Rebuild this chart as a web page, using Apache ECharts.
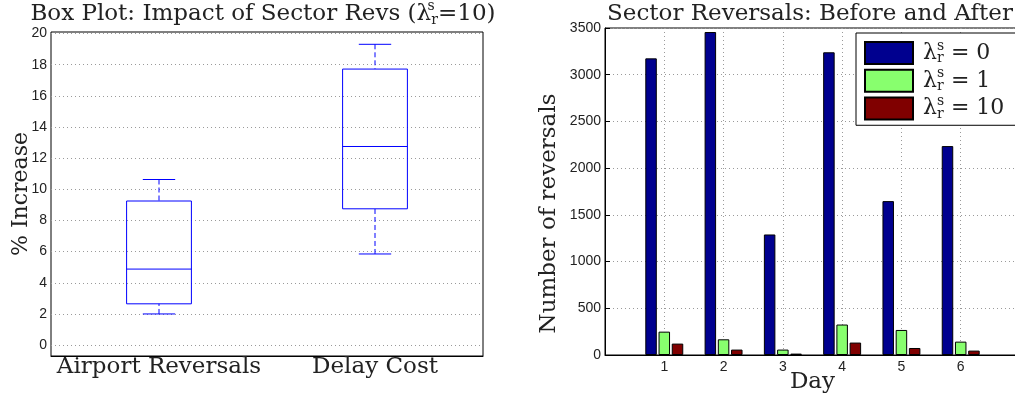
<!DOCTYPE html>
<html>
<head>
<meta charset="utf-8">
<script src="https://cdn.jsdelivr.net/npm/echarts@6/dist/echarts.min.js"></script>
<style>
html, body { margin: 0; padding: 0; background: #fff; }
#chart { width: 1015px; height: 395px; }
</style>
</head>
<body>
<div id="chart"></div>
<script>
// Box plot: % increase caused by sector reversal penalty (lambda = 10)
const boxCategories = ['Airport Reversals', 'Delay Cost'];
const boxMin = [2.0, 5.85];
const boxQ1 = [2.65, 8.75];
const boxMedian = [4.88, 12.75];
const boxQ3 = [9.25, 17.72];
const boxMax = [10.63, 19.31];
const percentTicks = [0, 2, 4, 6, 8, 10, 12, 14, 16, 18, 20];

// Sector reversals per day for three penalty weights
const days = [1, 2, 3, 4, 5, 6];
const lambdaValues = [0, 1, 10];
const revLambda0 = [3175, 3457, 1290, 3240, 1647, 2236];
const revLambda1 = [250, 168, 58, 326, 268, 143];
const revLambda10 = [122, 58, 15, 133, 75, 47];

const SERIF = 'DejaVu Serif';
const SANS = 'Liberation Sans';
const TXT = '#222';

// Rich-text styles for lambda with stacked superscript s / subscript r
function lambdaRich(size, lh) {
  const sub = Math.round(size * 0.62);
  const base = { fontFamily: SERIF, fontWeight: 'normal', color: TXT, lineHeight: lh };
  const supCenter = lh / 2 - size * 0.32;
  const subCenter = lh / 2 + size * 0.26;
  return {
    t: Object.assign({ fontSize: size }, base),
    l: Object.assign({ fontSize: size }, base),
    s: Object.assign({ fontSize: sub, width: 0, align: 'left', verticalAlign: 'top', height: 2 * supCenter }, base),
    r: Object.assign({ fontSize: sub, width: sub * 0.5, verticalAlign: 'bottom', height: 2 * (lh - subCenter) }, base)
  };
}

const boxData = boxCategories.map((c, i) => [i, boxMin[i], boxQ1[i], boxMedian[i], boxQ3[i], boxMax[i]]);
const pair = (arr) => days.map((d, i) => [d, arr[i]]);
const barColors = ['#00008f', '#88ff6e', '#800000'];
const barValues = [revLambda0, revLambda1, revLambda10];

function renderBox(params, api) {
  const i = api.value(0);
  const lo = api.coord([i, api.value(1)]);
  const q1 = api.coord([i, api.value(2)]);
  const md = api.coord([i, api.value(3)]);
  const q3 = api.coord([i, api.value(4)]);
  const hi = api.coord([i, api.value(5)]);
  const bw = api.size([1, 0])[0] * 0.3;
  const cw = bw / 2;
  const x = lo[0];
  const solid = { stroke: '#0000ff', lineWidth: 1, fill: null };
  const dashed = { stroke: '#0000ff', lineWidth: 1, lineDash: [5, 3] };
  return {
    type: 'group',
    children: [
      { type: 'line', shape: { x1: x, y1: hi[1], x2: x, y2: q3[1] }, style: dashed },
      { type: 'line', shape: { x1: x, y1: lo[1], x2: x, y2: q1[1] }, style: dashed },
      { type: 'line', shape: { x1: x - cw / 2, y1: hi[1], x2: x + cw / 2, y2: hi[1] }, style: solid },
      { type: 'line', shape: { x1: x - cw / 2, y1: lo[1], x2: x + cw / 2, y2: lo[1] }, style: solid },
      { type: 'rect', shape: { x: x - bw / 2, y: q3[1], width: bw, height: q1[1] - q3[1] }, style: { stroke: '#0000ff', lineWidth: 1, fill: 'none' } },
      { type: 'line', shape: { x1: x - bw / 2, y1: md[1], x2: x + bw / 2, y2: md[1] }, style: solid }
    ]
  };
}

const dotted = { color: '#9a9a9a', width: 1, type: [1, 3] };
const frameLine = { onZero: false, lineStyle: { color: '#000', width: 1 } };

const chart = echarts.init(document.getElementById('chart'), null, { renderer: 'canvas' });
chart.setOption({
  animation: false,
  backgroundColor: '#fff',
  title: [
    {
      text: '{t|Box Plot: Impact of Sector Revs (}{l|λ}{s|s}{r|r}{t|=10)}',
      left: 263, top: 0, textAlign: 'center', padding: 0,
      textStyle: { fontWeight: 'normal', fontFamily: SERIF, fontSize: 23, lineHeight: 28, rich: lambdaRich(23, 28) }
    },
    {
      text: 'Sector Reversals: Before and After',
      left: 810, top: 0, textAlign: 'center', padding: 0,
      textStyle: { fontFamily: SERIF, fontSize: 23, fontWeight: 'normal', color: TXT, lineHeight: 28 }
    }
  ],
  legend: {
    data: lambdaValues.map(v => 'λ = ' + v),
    orient: 'vertical',
    left: 856, top: 33,
    backgroundColor: '#fff',
    borderColor: '#000', borderWidth: 1,
    padding: [6, 40, 4, 8],
    itemWidth: 48, itemHeight: 22, itemGap: 1,
    icon: 'rect',
    formatter: (name) => '{l|λ}{s|s}{r|r}{t| = ' + name.split('= ')[1] + '}',
    textStyle: { padding: [0, 0, 0, 5], fontFamily: SERIF, fontSize: 22, lineHeight: 22, rich: lambdaRich(22, 22) }
  },
  grid: [
    { left: 51, top: 32, width: 432, height: 324, outerBoundsMode: 'none', show: true, borderColor: '#000', borderWidth: 1 },
    { left: 605, top: 28, width: 415, height: 327, outerBoundsMode: 'none', show: true, borderColor: '#000', borderWidth: 1 }
  ],
  xAxis: [
    {
      gridIndex: 0, type: 'category', data: boxCategories,
      axisLine: frameLine, axisTick: { show: false },
      axisLabel: { fontFamily: SERIF, fontSize: 23, color: TXT, margin: 0, interval: 0 },
      splitLine: { show: false }
    },
    {
      gridIndex: 1, type: 'value', min: 0, max: 7, interval: 1,
      name: 'Day', nameLocation: 'middle', nameGap: 16, nameMoveOverlap: false,
      nameTextStyle: { fontFamily: SERIF, fontSize: 23, color: TXT },
      axisLine: frameLine,
      axisTick: { inside: true, length: 5, lineStyle: { color: '#000' } },
      axisLabel: { fontFamily: SANS, fontSize: 14, color: TXT, margin: 5,
        formatter: v => (v >= 1 && v <= 6 ? String(v) : '') },
      splitLine: { show: true, lineStyle: dotted }
    }
  ],
  yAxis: [
    {
      gridIndex: 0, type: 'value', min: -0.7, max: 20.1,
      name: '% Increase', nameLocation: 'middle', nameRotate: 90, nameGap: 19, nameMoveOverlap: false,
      nameTextStyle: { fontFamily: SERIF, fontSize: 22, color: TXT },
      axisLine: frameLine,
      axisTick: { inside: true, length: 5, customValues: percentTicks, lineStyle: { color: '#000' } },
      axisLabel: { fontFamily: SANS, fontSize: 14, color: TXT, margin: 4, customValues: percentTicks },
      splitLine: { show: true, lineStyle: dotted }
    },
    {
      gridIndex: 0, type: 'value', min: -0.7, max: 20.1, position: 'right',
      axisLine: frameLine,
      axisTick: { inside: true, length: 5, customValues: percentTicks, lineStyle: { color: '#000' } },
      axisLabel: { show: false },
      splitLine: { show: false }
    },
    {
      gridIndex: 1, type: 'value', min: 0, max: 3500, interval: 500,
      name: 'Number of reversals', nameLocation: 'middle', nameRotate: 90, nameGap: 44, nameMoveOverlap: false,
      nameTextStyle: { fontFamily: SERIF, fontSize: 23, color: TXT, padding: [0, 44, 0, 0] },
      axisLine: frameLine,
      axisTick: { inside: true, length: 5, lineStyle: { color: '#000' } },
      axisLabel: { fontFamily: SANS, fontSize: 14, color: TXT, margin: 4, formatter: v => String(v) },
      splitLine: { show: true, lineStyle: dotted }
    }
  ],
  series: [
    {
      type: 'custom', xAxisIndex: 0, yAxisIndex: 0,
      data: boxData,
      encode: { x: 0, y: [1, 2, 3, 4, 5] },
      renderItem: renderBox,
      silent: true
    },
    ...lambdaValues.map((v, k) => ({
      name: 'λ = ' + v,
      type: 'bar', xAxisIndex: 1, yAxisIndex: 2,
      data: pair(barValues[k]),
      barWidth: 11.5, barGap: '15%',
      itemStyle: { color: barColors[k], borderColor: '#000', borderWidth: 1 }
    }))
  ]
});
</script>
</body>
</html>
